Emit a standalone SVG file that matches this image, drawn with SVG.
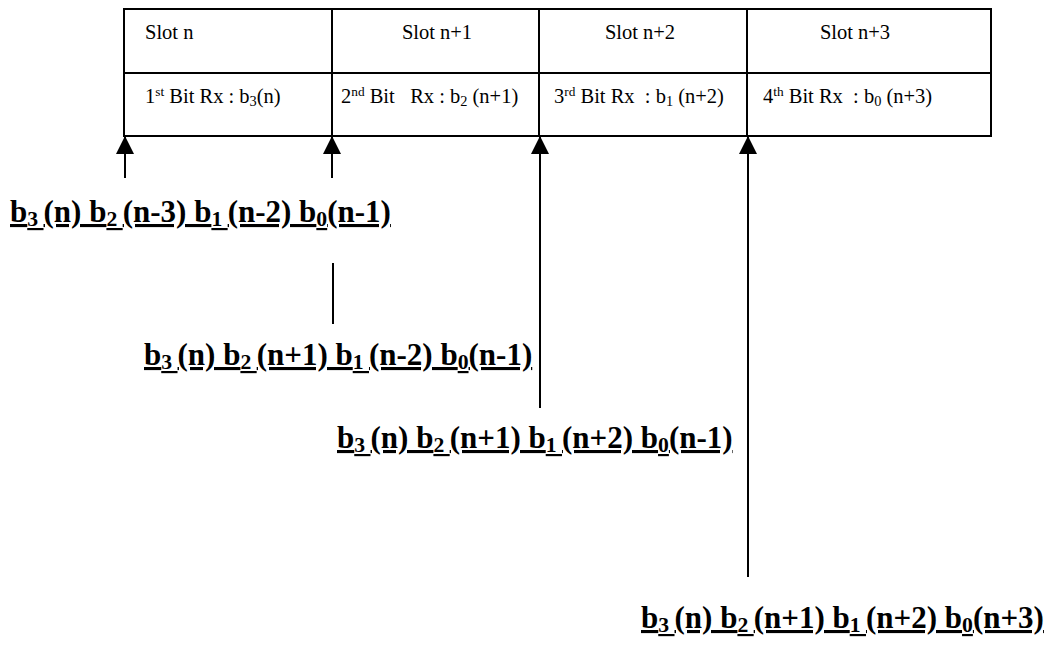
<svg xmlns="http://www.w3.org/2000/svg" width="1050" height="646" viewBox="0 0 1050 646">
<style>
.cell{fill:none;stroke:#000;stroke-width:2}
.t{font-family:"Liberation Serif","Times New Roman",serif;font-size:20.5px;fill:#000}
.big{font-family:"Liberation Serif","Times New Roman",serif;font-size:31px;font-weight:bold;fill:#000;text-decoration:underline}
.sub{font-size:70%;baseline-shift:-0.2em}
.sup{font-size:65%;baseline-shift:super}
.conn{stroke:#000;stroke-width:2;fill:none}
</style>
<defs>
<marker id="ah" markerUnits="userSpaceOnUse" markerWidth="20" markerHeight="18" refX="18" refY="9" orient="auto" viewBox="0 0 20 18">
<path d="M0,0 L18,9 L0,18 z" fill="#000"/>
</marker>
</defs>
<g id="table">
<rect class="cell" x="124" y="9" width="867" height="127"/>
<line class="cell" x1="124" y1="73" x2="991" y2="73"/>
<line class="cell" x1="332" y1="9" x2="332" y2="136"/>
<line class="cell" x1="539" y1="9" x2="539" y2="136"/>
<line class="cell" x1="747" y1="9" x2="747" y2="136"/>
</g>
<g id="slot-n"><text class="t" x="145" y="39">Slot n</text></g>
<g id="slot-n1"><text class="t" x="437" y="39" text-anchor="middle">Slot n+1</text></g>
<g id="slot-n2"><text class="t" x="640" y="39" text-anchor="middle">Slot n+2</text></g>
<g id="slot-n3"><text class="t" x="855" y="39" text-anchor="middle">Slot n+3</text></g>
<g id="bit1"><text class="t" x="145" y="103" xml:space="preserve">1<tspan class="sup">st</tspan> Bit Rx : b<tspan class="sub">3</tspan>(n)</text></g>
<g id="bit2"><text class="t" x="341" y="103" xml:space="preserve">2<tspan class="sup">nd</tspan> Bit   Rx : b<tspan class="sub">2</tspan> (n+1)</text></g>
<g id="bit3"><text class="t" x="554" y="103" xml:space="preserve">3<tspan class="sup">rd</tspan> Bit Rx  : b<tspan class="sub">1</tspan> (n+2)</text></g>
<g id="bit4"><text class="t" x="763" y="103" xml:space="preserve">4<tspan class="sup">th</tspan> Bit Rx  : b<tspan class="sub">0</tspan> (n+3)</text></g>
<g id="connectors">
<line class="conn" x1="125" y1="178" x2="125" y2="136" marker-end="url(#ah)"/>
<line class="conn" x1="332" y1="178" x2="332" y2="136" marker-end="url(#ah)"/>
<line class="conn" x1="333" y1="263" x2="333" y2="324"/>
<line class="conn" x1="540" y1="408" x2="540" y2="136" marker-end="url(#ah)"/>
<line class="conn" x1="748" y1="577" x2="748" y2="136" marker-end="url(#ah)"/>
</g>
<g id="label1"><text class="big" x="10" y="222" xml:space="preserve">b<tspan class="sub">3 </tspan>(n) b<tspan class="sub">2 </tspan>(n-3) b<tspan class="sub">1 </tspan>(n-2) b<tspan class="sub">0</tspan>(n-1)</text></g>
<g id="label2"><text class="big" x="144" y="365" xml:space="preserve">b<tspan class="sub">3 </tspan>(n) b<tspan class="sub">2 </tspan>(n+1) b<tspan class="sub">1 </tspan>(n-2) b<tspan class="sub">0</tspan>(n-1)</text></g>
<g id="label3"><text class="big" x="337" y="448" xml:space="preserve">b<tspan class="sub">3 </tspan>(n) b<tspan class="sub">2 </tspan>(n+1) b<tspan class="sub">1 </tspan>(n+2) b<tspan class="sub">0</tspan>(n-1)</text></g>
<g id="label4"><text class="big" x="641" y="628" xml:space="preserve">b<tspan class="sub">3 </tspan>(n) b<tspan class="sub">2 </tspan>(n+1) b<tspan class="sub">1 </tspan>(n+2) b<tspan class="sub">0</tspan>(n+3)</text></g>
</svg>
